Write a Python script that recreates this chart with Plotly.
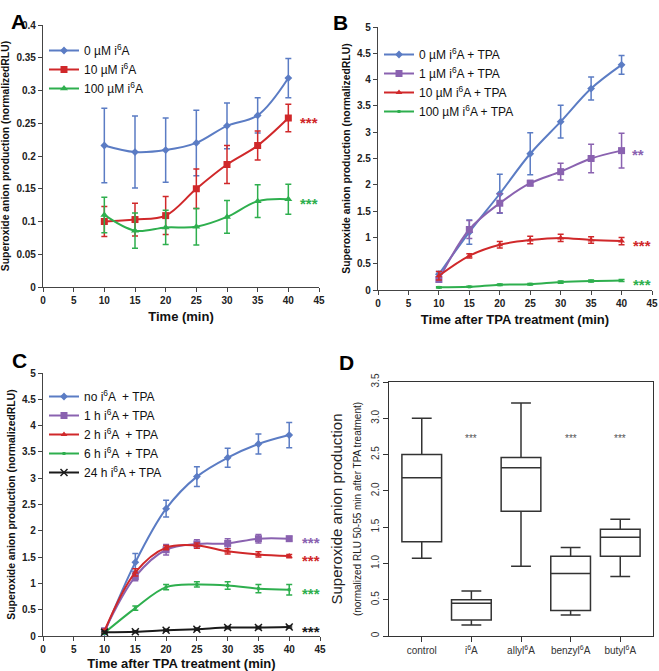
import plotly.graph_objects as go

W, H = 659, 671

# ---------------- data ----------------
time = [10, 15, 20, 25, 30, 35, 40]

# Panel A
a_names = ["0 µM i<sup>6</sup>A", "10 µM i<sup>6</sup>A", "100 µM i<sup>6</sup>A"]
a_0uM = [0.216, 0.206, 0.209, 0.220, 0.246, 0.262, 0.319]
a_0uM_err = [0.057, 0.055, 0.049, 0.050, 0.035, 0.027, 0.030]
a_10uM = [0.100, 0.103, 0.109, 0.150, 0.187, 0.216, 0.258]
a_10uM_err = [0.023, 0.025, 0.029, 0.030, 0.029, 0.022, 0.021]
a_100uM = [0.110, 0.086, 0.091, 0.092, 0.107, 0.131, 0.134]
a_100uM_err = [0.027, 0.027, 0.026, 0.028, 0.025, 0.025, 0.023]

# Panel B
b_names = ["0 µM i<sup>6</sup>A + TPA", "1 µM i<sup>6</sup>A + TPA",
           "10 µM i<sup>6</sup>A + TPA", "100 µM i<sup>6</sup>A + TPA"]
b_0uM = [0.30, 1.10, 1.83, 2.59, 3.20, 3.83, 4.28]
b_0uM_err = [0.05, 0.23, 0.37, 0.40, 0.31, 0.22, 0.18]
b_1uM = [0.20, 1.15, 1.65, 2.03, 2.25, 2.50, 2.65]
b_1uM_err = [0.05, 0.17, 0.18, 0.05, 0.16, 0.27, 0.33]
b_10uM = [0.27, 0.65, 0.86, 0.95, 0.99, 0.95, 0.93]
b_10uM_err = [0.08, 0.04, 0.06, 0.07, 0.07, 0.06, 0.07]
b_100uM = [0.05, 0.06, 0.10, 0.11, 0.15, 0.17, 0.18]
b_100uM_err = [0.01, 0.01, 0.015, 0.015, 0.02, 0.02, 0.02]

# Panel C
c_names = ["no i<sup>6</sup>A  + TPA", "1 h i<sup>6</sup>A + TPA", "2 h i<sup>6</sup>A  + TPA",
           "6 h i<sup>6</sup>A  + TPA", "24 h i<sup>6</sup>A + TPA"]
c_no = [0.07, 1.40, 2.42, 3.03, 3.39, 3.65, 3.82]
c_no_err = [0.03, 0.17, 0.16, 0.19, 0.18, 0.19, 0.24]
c_1h = [0.10, 1.13, 1.64, 1.75, 1.76, 1.85, 1.85]
c_1h_err = [0.03, 0.08, 0.10, 0.08, 0.09, 0.08, 0.04]
c_2h = [0.10, 1.21, 1.68, 1.72, 1.61, 1.55, 1.52]
c_2h_err = [0.03, 0.07, 0.04, 0.05, 0.05, 0.05, 0.03]
c_6h = [0.06, 0.53, 0.93, 0.98, 0.96, 0.90, 0.88]
c_6h_err = [0.02, 0.04, 0.05, 0.05, 0.07, 0.08, 0.10]
c_24h = [0.07, 0.08, 0.11, 0.13, 0.16, 0.16, 0.17]
c_24h_err = [0.02, 0.02, 0.02, 0.02, 0.02, 0.02, 0.02]

# Panel D (box summaries)
d_positions = [1, 2, 3, 4, 5]
d_labels = ["control", "i<sup>6</sup>A", "allyl<sup>6</sup>A", "benzyl<sup>6</sup>A", "butyl<sup>6</sup>A"]
d_lower = [1.07, 0.15, 0.96, 0.29, 0.82]
d_q1 = [1.30, 0.22, 1.72, 0.35, 1.10]
d_median = [2.18, 0.45, 2.32, 0.86, 1.36]
d_q3 = [2.50, 0.50, 2.46, 1.10, 1.47]
d_upper = [3.00, 0.62, 3.21, 1.22, 1.61]
d_sig = ["", "***", "", "***", "***"]
d_sig_y = 2.75
d_yticks = [0, 0.5, 1.0, 1.5, 2.0, 2.5, 3.0, 3.5]
d_yticklabels = ["0", "0.5", "1.0", "1.5", "2.0", "2.5", "3.0", "3.5"]

# ---------------- style ----------------
BLUE = "#5B7CC4"
PURPLE = "#8A62B0"
RED = "#D0282A"
GREEN = "#2EAF4E"
BLACK = "#1a1a1a"
FONT = "Arial, Liberation Sans, sans-serif"


def xdom(p0, p1):
    return [p0 / W, p1 / W]


def ydom(top, bottom):
    return [1 - bottom / H, 1 - top / H]


fig = go.Figure()


def add_series(xa, ya, y, err, name, color, symbol, size, legend, mline=None):
    marker = dict(color=color, symbol=symbol, size=size)
    if mline:
        marker["line"] = dict(color=color, width=mline)
    fig.add_trace(go.Scatter(
        x=time, y=y, name=name, mode="lines+markers",
        line=dict(color=color, width=2, shape="spline", smoothing=1),
        marker=marker,
        error_y=dict(type="data", array=err, visible=True, color=color, thickness=1.5, width=3),
        xaxis=xa, yaxis=ya, legend=legend,
    ))


# Panel A
add_series("x", "y", a_0uM, a_0uM_err, a_names[0], BLUE, "diamond", 6, "legend")
add_series("x", "y", a_10uM, a_10uM_err, a_names[1], RED, "square", 7, "legend")
add_series("x", "y", a_100uM, a_100uM_err, a_names[2], GREEN, "triangle-up", 7, "legend")

# Panel B
add_series("x2", "y2", b_0uM, b_0uM_err, b_names[0], BLUE, "diamond", 6, "legend2")
add_series("x2", "y2", b_1uM, b_1uM_err, b_names[1], PURPLE, "square", 7, "legend2")
add_series("x2", "y2", b_10uM, b_10uM_err, b_names[2], RED, "triangle-up", 6, "legend2")
add_series("x2", "y2", b_100uM, b_100uM_err, b_names[3], GREEN, "square", 3, "legend2")

# Panel C
add_series("x3", "y3", c_no, c_no_err, c_names[0], BLUE, "diamond", 6, "legend3")
add_series("x3", "y3", c_1h, c_1h_err, c_names[1], PURPLE, "square", 7, "legend3")
add_series("x3", "y3", c_2h, c_2h_err, c_names[2], RED, "triangle-up", 6, "legend3")
add_series("x3", "y3", c_6h, c_6h_err, c_names[3], GREEN, "square", 3, "legend3")
add_series("x3", "y3", c_24h, c_24h_err, c_names[4], BLACK, "x-thin", 7, "legend3", mline=1.5)

# Panel D
for i in range(len(d_positions)):
    fig.add_trace(go.Box(
        x=[d_positions[i]], q1=[d_q1[i]], median=[d_median[i]], q3=[d_q3[i]],
        lowerfence=[d_lower[i]], upperfence=[d_upper[i]],
        fillcolor="white", line=dict(color="#333333", width=1.5),
        whiskerwidth=0.5, width=0.8, boxpoints=False,
        xaxis="x4", yaxis="y4", showlegend=False,
    ))

# ---------------- axes ----------------
tickfont_bold = dict(family=FONT, size=10, color="#222222", weight="bold")
ytitle = "Superoxide anion production (normalizedRLU)"
common_line = dict(showline=True, linecolor="#444444", linewidth=1.2, ticks="outside",
                   ticklen=4, tickcolor="#444444", showgrid=False, zeroline=False,
                   tickfont=tickfont_bold, automargin=False)
xt_font = dict(family=FONT, size=13, weight="bold", color="#111")
yt_font = dict(family=FONT, size=10.4, weight="bold", color="#111")

fig.update_layout(
    xaxis=dict(domain=xdom(43, 319), range=[0, 45], dtick=5, anchor="y",
               title=dict(text="Time (min)", font=xt_font, standoff=6), **common_line),
    yaxis=dict(domain=ydom(25, 287), range=[0, 0.4], dtick=0.05, anchor="x",
               title=dict(text=ytitle, font=yt_font, standoff=4), **common_line),
    xaxis2=dict(domain=xdom(378, 652), range=[0, 45], dtick=5, anchor="y2",
                title=dict(text="Time after TPA treatment (min)", font=xt_font, standoff=6), **common_line),
    yaxis2=dict(domain=ydom(27, 290), range=[0, 5], dtick=0.5, anchor="x2",
                title=dict(text=ytitle, font=yt_font, standoff=4), **common_line),
    xaxis3=dict(domain=xdom(43, 320), range=[0, 45], dtick=5, anchor="y3",
                title=dict(text="Time after TPA treatment (min)", font=xt_font, standoff=6), **common_line),
    yaxis3=dict(domain=ydom(373, 636), range=[0, 5], dtick=0.5, anchor="x3",
                title=dict(text=ytitle, font=yt_font, standoff=4), **common_line),
    xaxis4=dict(domain=xdom(389, 653), range=[0.34, 5.66], anchor="y4",
                tickvals=d_positions, ticktext=d_labels,
                showline=True, mirror=True, linecolor="#333333", linewidth=1.2,
                ticks="outside", ticklen=5, tickcolor="#333333", showgrid=False, zeroline=False,
                tickfont=dict(family=FONT, size=10, color="#333333"), automargin=False),
    yaxis4=dict(domain=ydom(382, 636), range=[0, 3.5], anchor="x4",
                tickvals=d_yticks, ticktext=d_yticklabels, tickangle=-90,
                showline=True, mirror=True, linecolor="#333333", linewidth=1.2,
                ticks="outside", ticklen=5, tickcolor="#333333", showgrid=False, zeroline=False,
                tickfont=dict(family=FONT, size=10, color="#333333"), automargin=False,
                title=dict(text="Superoxide anion production<br><span style='font-size:10px'>(normalized RLU 50-55 min after TPA treatment)</span>",
                           font=dict(family=FONT, size=15, color="#222222"), standoff=4)),
)

legend_common = dict(bgcolor="rgba(0,0,0,0)", font=dict(family=FONT, size=12, color="#111"),
                     itemwidth=30, tracegroupgap=0, xanchor="left", yanchor="top")
fig.update_layout(
    legend=dict(x=44 / W, y=1 - 36 / H, **legend_common),
    legend2=dict(x=379 / W, y=1 - 40 / H, **legend_common),
    legend3=dict(x=44 / W, y=1 - 382 / H, **legend_common),
)

# significance stars
stars = [
    ("x", "y", 43.4, a_10uM[-1], "***", RED),
    ("x", "y", 43.4, a_100uM[-1], "***", GREEN),
    ("x2", "y2", 42.7, b_1uM[-1], "**", PURPLE),
    ("x2", "y2", 43.3, b_10uM[-1], "***", RED),
    ("x2", "y2", 43.3, b_100uM[-1], "***", GREEN),
    ("x3", "y3", 43.6, c_1h[-1], "***", PURPLE),
    ("x3", "y3", 43.6, c_2h[-1], "***", RED),
    ("x3", "y3", 43.6, c_6h[-1], "***", GREEN),
    ("x3", "y3", 43.6, c_24h[-1], "***", BLACK),
]
for xa, ya, xv, yv, txt, col in stars:
    fig.add_annotation(x=xv, y=yv, xref=xa, yref=ya, text=txt, showarrow=False,
                       font=dict(family=FONT, size=15, color=col, weight="bold"), yshift=-4)

for pos, s in zip(d_positions, d_sig):
    if s:
        fig.add_annotation(x=pos, y=d_sig_y, xref="x4", yref="y4", text=s, showarrow=False,
                           font=dict(family=FONT, size=10, color="#555555"), yshift=-2)

# panel letters
for letter, px, py in [("A", 9, 8), ("B", 340, 9), ("C", 10, 360), ("D", 346, 362)]:
    fig.add_annotation(x=px / W, y=1 - py / H, xref="paper", yref="paper", text=letter,
                       showarrow=False, font=dict(family=FONT, size=21, color="black", weight="bold"))

fig.update_layout(width=W, height=H, margin=dict(l=0, r=0, t=0, b=0),
                  paper_bgcolor="white", plot_bgcolor="white")

fig.write_html("out.html", config={"displayModeBar": False},
               post_script="document.body.style.margin='0';document.body.style.overflow='hidden';")
